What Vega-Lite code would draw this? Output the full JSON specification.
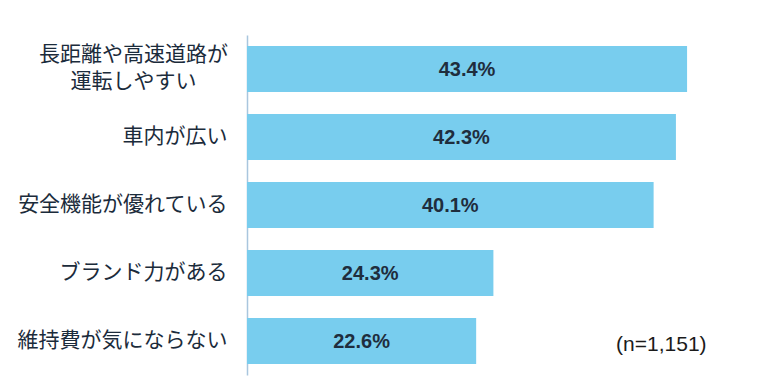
{
  "$schema": "https://vega.github.io/schema/vega-lite/v6.json",
  "autosize": {"type": "none"},
  "padding": {"left": 247, "top": 35, "right": 14, "bottom": 9},
  "width": 507,
  "height": 340,
  "background": "white",
  "config": {"view": {"stroke": null}},
  "data": {
    "values": [
      {"item": "長距離や高速道路が|運転しやすい", "pct": 43.4, "label": "43.4%"},
      {"item": "車内が広い", "pct": 42.3, "label": "42.3%"},
      {"item": "安全機能が優れている", "pct": 40.1, "label": "40.1%"},
      {"item": "ブランド力がある", "pct": 24.3, "label": "24.3%"},
      {"item": "維持費が気にならない", "pct": 22.6, "label": "22.6%"}
    ]
  },
  "encoding": {
    "y": {
      "field": "item",
      "type": "nominal",
      "sort": null,
      "scale": {"paddingInner": 0.32, "paddingOuter": 0.16},
      "axis": {
        "title": null,
        "ticks": false,
        "tickSize": 0,
        "labelLimit": 400,
        "labelExpr": "split(datum.label, '|')",
        "labelFont": "Noto Sans CJK JP",
        "labelFontSize": 21,
        "labelColor": "#1B2B3B",
        "labelLineHeight": 27,
        "labelAlign": {"condition": {"test": "indexof(datum.value, '|') >= 0", "value": "center"}, "value": "right"},
        "labelPadding": {"condition": {"test": "indexof(datum.value, '|') >= 0", "value": 114}, "value": 20},
        "labelOffset": {"condition": {"test": "indexof(datum.value, '|') >= 0", "value": -14}, "value": 0},
        "domainColor": "#A9C6DE",
        "domainWidth": 1.5,
        "grid": false
      }
    }
  },
  "layer": [
    {
      "mark": {"type": "bar", "color": "#78CDEE"},
      "encoding": {
        "x": {"field": "pct", "type": "quantitative", "scale": {"domain": [0, 50]}, "axis": null}
      }
    },
    {
      "transform": [{"calculate": "datum.pct / 2", "as": "mid"}],
      "mark": {"type": "text", "font": "Liberation Sans", "fontWeight": "bold", "fontSize": 20, "color": "#1F2D3D", "align": "center", "baseline": "middle", "dy": 1},
      "encoding": {
        "x": {"field": "mid", "type": "quantitative"},
        "text": {"field": "label"}
      }
    },
    {
      "data": {"values": [{"item": "維持費が気にならない", "pos": 36.4, "note": "(n=1,151)"}]},
      "mark": {"type": "text", "font": "Liberation Sans", "fontSize": 21, "color": "#1B1B1B", "align": "left", "baseline": "middle", "dy": 4},
      "encoding": {
        "x": {"field": "pos", "type": "quantitative"},
        "text": {"field": "note"}
      }
    }
  ]
}
